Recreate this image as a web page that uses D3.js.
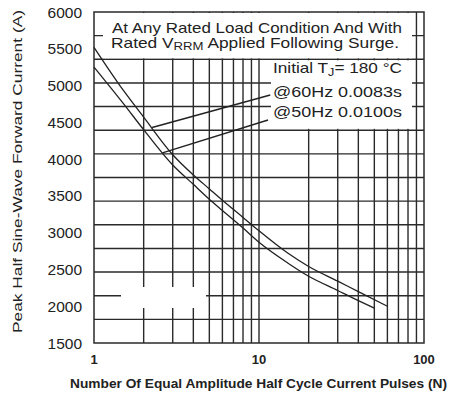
<!DOCTYPE html>
<html>
<head>
<meta charset="utf-8">
<script src="https://cdn.jsdelivr.net/npm/d3@7"></script>
<style>
  body { margin: 0; background: #fff; }
  svg { display: block; font-family: "Liberation Sans", Arial, sans-serif; }
</style>
</head>
<body>
<svg id="chart" width="449" height="401"></svg>
<script>
// surge curves
var cycles60 = [1, 1.5, 2, 3, 4, 5, 6, 8, 10, 15, 20, 30, 40, 60];
var current60 = [5520, 4940, 4570, 4060, 3785, 3595, 3440, 3207, 3025, 2719, 2540, 2341, 2199, 2000];
var cycles50 = [1, 1.5, 2, 3, 4, 5, 6, 8, 10, 15, 20, 30, 40, 50];
var current50 = [5250, 4760, 4400, 3920, 3657, 3455, 3301, 3062, 2870, 2585, 2407, 2214, 2077, 1975];

var yTicks = [1500, 2000, 2500, 3000, 3500, 4000, 4500, 5000, 5500, 6000];
var xTicks = [1, 10, 100];
var xGrid = [2, 3, 4, 5, 6, 7, 8, 9, 10, 20, 30, 40, 50, 60, 70, 80, 90];

// leader lines: [cycles, amps] from curve to label
var leader60 = [[2.25, 4430], [11.7, 4872]];
var leader50 = [[2.6, 4085], [11.35, 4532]];

function draw() {
	var svg = d3.select("#chart");
	var pLeft = 94, pRight = 424, pTop = 12, pBottom = 343;

	var x = d3.scaleLog().domain([1, 100]).range([pLeft, pRight]);
	var y = d3.scaleLinear().domain([1500, 6000]).range([pBottom, pTop]);
	// the scanned grid has 14 rows, not aligned to the labels
	var rows = d3.scaleLinear().domain([0, 14]).range([pBottom, pTop]);

	var grid = svg.append("g").attr("stroke", "#2a2a2a").attr("stroke-width", 1.4);

	grid.selectAll("line.v")
		.data(xGrid)
		.enter().append("line")
		.attr("class", "v")
		.attr("x1", function(d) { return x(d); })
		.attr("x2", function(d) { return x(d); })
		.attr("y1", pTop)
		.attr("y2", pBottom);

	grid.selectAll("line.h")
		.data(d3.range(1, 14))
		.enter().append("line")
		.attr("class", "h")
		.attr("x1", pLeft)
		.attr("x2", pRight)
		.attr("y1", function(d) { return rows(d); })
		.attr("y2", function(d) { return rows(d); });

	// blank patches on the scan
	svg.append("rect").attr("x", 103).attr("y", pTop + 1).attr("width", 309).attr("height", rows(12) - pTop - 2).attr("fill", "#fff");
	svg.append("rect").attr("x", 271).attr("y", rows(12) + 1).attr("width", 141).attr("height", rows(9.1) - rows(12)).attr("fill", "#fff");
	svg.append("rect").attr("x", 121).attr("y", 287).attr("width", 85).attr("height", 21).attr("fill", "#fff");

	svg.append("rect")
		.attr("x", pLeft).attr("y", pTop)
		.attr("width", pRight - pLeft).attr("height", pBottom - pTop)
		.attr("fill", "none").attr("stroke", "#2a2a2a").attr("stroke-width", 1.5);

	var line = d3.line()
		.x(function(d) { return x(d[0]); })
		.y(function(d) { return y(d[1]); })
		.curve(d3.curveMonotoneX);

	[[cycles60, current60], [cycles50, current50]].forEach(function(s) {
		svg.append("path")
			.datum(d3.zip(s[0], s[1]))
			.attr("d", line)
			.attr("fill", "none")
			.attr("stroke", "#222")
			.attr("stroke-width", 1.3);
	});

	[leader60, leader50].forEach(function(l) {
		svg.append("path")
			.datum(l)
			.attr("d", d3.line().x(function(d) { return x(d[0]); }).y(function(d) { return y(d[1]); }))
			.attr("stroke", "#222")
			.attr("stroke-width", 1.4);
	});

	// y labels
	svg.append("g").selectAll("text")
		.data(yTicks)
		.enter().append("text")
		.attr("x", 82)
		.attr("y", function(d) { return y(d); })
		.attr("dy", "0.36em")
		.attr("text-anchor", "end")
		.attr("font-size", 15.5)
		.attr("fill", "#222")
		.text(function(d) { return d; });

	// x labels
	svg.append("g").selectAll("text")
		.data(xTicks)
		.enter().append("text")
		.attr("x", function(d) { return x(d); })
		.attr("y", 364)
		.attr("text-anchor", "middle")
		.attr("font-size", 13)
		.attr("font-weight", "bold")
		.attr("fill", "#222")
		.text(function(d) { return d; });

	svg.append("text")
		.attr("x", 70).attr("y", 388)
		.attr("font-size", 12).attr("font-weight", "bold")
		.attr("textLength", 377).attr("lengthAdjust", "spacingAndGlyphs")
		.attr("fill", "#222")
		.text("Number Of Equal Amplitude Half Cycle Current Pulses (N)");

	svg.append("text")
		.attr("transform", "translate(22,333) rotate(-90)")
		.attr("font-size", 13)
		.attr("textLength", 323).attr("lengthAdjust", "spacingAndGlyphs")
		.attr("fill", "#222")
		.text("Peak Half Sine-Wave Forward Current (A)");

	// notes
	svg.append("text")
		.attr("x", 112).attr("y", 33)
		.attr("font-size", 14.5)
		.attr("textLength", 290).attr("lengthAdjust", "spacingAndGlyphs")
		.attr("fill", "#222")
		.text("At Any Rated Load Condition And With");

	var t2 = svg.append("text")
		.attr("x", 111).attr("y", 48)
		.attr("font-size", 14.5)
		.attr("textLength", 288).attr("lengthAdjust", "spacingAndGlyphs")
		.attr("fill", "#222");
	t2.append("tspan").text("Rated V");
	t2.append("tspan").attr("font-size", 11).attr("dy", 2).text("RRM");
	t2.append("tspan").attr("dy", -2).text(" Applied Following Surge.");

	var t3 = svg.append("text")
		.attr("x", 273).attr("y", 73)
		.attr("font-size", 15)
		.attr("textLength", 129).attr("lengthAdjust", "spacingAndGlyphs")
		.attr("fill", "#222");
	t3.append("tspan").text("Initial T");
	t3.append("tspan").attr("font-size", 11).attr("dy", 3).text("J");
	t3.append("tspan").attr("dy", -3).text("= 180 °C");

	svg.append("text")
		.attr("x", 273).attr("y", 97)
		.attr("font-size", 15)
		.attr("textLength", 129).attr("lengthAdjust", "spacingAndGlyphs")
		.attr("fill", "#222")
		.text("@60Hz 0.0083s");

	svg.append("text")
		.attr("x", 273).attr("y", 117)
		.attr("font-size", 15)
		.attr("textLength", 129).attr("lengthAdjust", "spacingAndGlyphs")
		.attr("fill", "#222")
		.text("@50Hz 0.0100s");
}

draw();
</script>
</body>
</html>
